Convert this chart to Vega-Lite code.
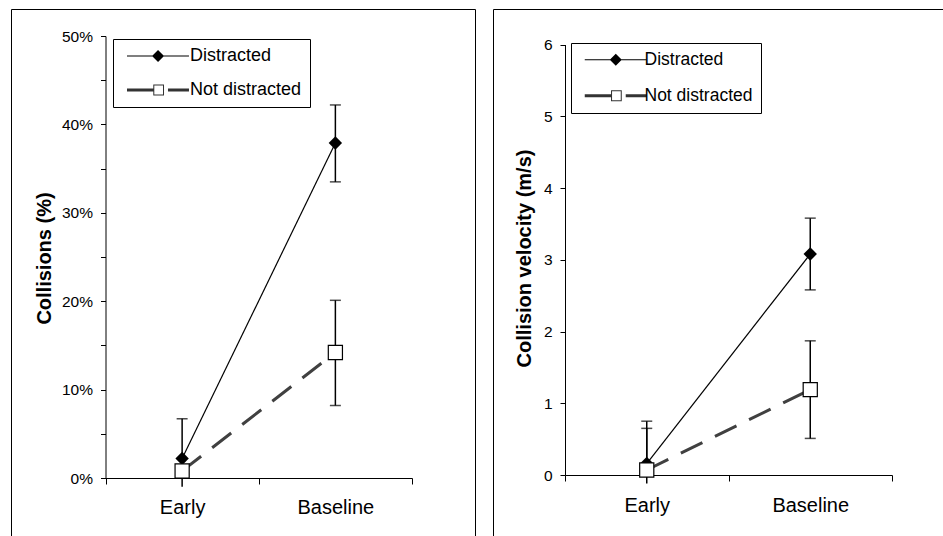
{
  "$schema": "https://vega.github.io/schema/vega-lite/v6.json",
  "padding": {"left": 10, "top": 8, "right": 0, "bottom": 0},
  "spacing": 16,
  "background": "white",
  "config": {
    "view": {"stroke": "black", "strokeWidth": 1},
    "font": "Liberation Sans",
    "axis": {"grid": false, "domainColor": "black", "tickColor": "black", "labelColor": "black", "titleColor": "black", "labelFont": "Liberation Sans", "titleFont": "Liberation Sans", "domainWidth": 1, "tickWidth": 1, "titleFontSize": 20, "titleFontWeight": "bold", "titleLimit": 1000}
  },
  "resolve": {"scale": {"shape": "independent", "fill": "independent"}, "legend": {"shape": "independent", "fill": "independent"}},
  "datasets": {
    "left": [
      {"series": "Distracted", "cond": "Early", "value": 0.022, "lo": -0.01, "hi": 0.067},
      {"series": "Not distracted", "cond": "Early", "value": 0.008, "lo": 0.008, "hi": 0.008},
      {"series": "Distracted", "cond": "Baseline", "value": 0.379, "lo": 0.335, "hi": 0.422},
      {"series": "Not distracted", "cond": "Baseline", "value": 0.142, "lo": 0.082, "hi": 0.201}
    ],
    "right": [
      {"series": "Distracted", "cond": "Early", "value": 0.16, "lo": -0.12, "hi": 0.75},
      {"series": "Not distracted", "cond": "Early", "value": 0.07, "lo": 0.07, "hi": 0.65},
      {"series": "Distracted", "cond": "Baseline", "value": 3.08, "lo": 2.58, "hi": 3.58},
      {"series": "Not distracted", "cond": "Baseline", "value": 1.19, "lo": 0.51, "hi": 1.87}
    ]
  },
  "hconcat": [
    {
      "width": 464,
      "height": 528,
      "data": {"name": "left"},
      "encoding": {
        "x": {"field": "cond", "type": "nominal", "sort": ["Early", "Baseline"],
          "scale": {"type": "band", "domain": ["Early", "Baseline"], "range": [94.5, 401], "paddingInner": 0, "paddingOuter": 0},
          "axis": {"orient": "bottom", "offset": -59, "title": null, "tickBand": "extent", "tickSize": 6, "labelFontSize": 20, "labelPadding": 13, "labelAngle": 0}},
        "y": {"field": "value", "type": "quantitative", "scale": {"domain": [0, 0.5], "range": [469, 27], "nice": false, "zero": false},
          "axis": {"orient": "left", "offset": -94.5, "values": [0, 0.05, 0.1, 0.15, 0.2, 0.25, 0.3, 0.35, 0.4, 0.45, 0.5], "format": ".0%", "labelExpr": "round(datum.value*100) % 10 == 0 ? datum.label : ''", "tickSize": 5, "labelPadding": 8, "labelFontSize": 15.5, "title": "Collisions (%)", "titleFontSize": 20, "titleFontWeight": "bold", "titleX": -61, "titleY": 249, "titleBaseline": "middle"}}
      },
      "layer": [
        {
          "transform": [{"filter": "datum.hi > datum.lo"}],
          "mark": {"type": "rule", "color": "black", "strokeWidth": 1.5},
          "encoding": {
            "y": {"field": "lo", "type": "quantitative", "title": "Collisions (%)"},
            "y2": {"field": "hi"}
          }
        },
        {
          "transform": [{"filter": "datum.hi > datum.value"}],
          "mark": {"type": "tick", "color": "black", "size": 11, "thickness": 1.5},
          "encoding": {"y": {"field": "hi", "type": "quantitative", "title": "Collisions (%)"}}
        },
        {
          "transform": [{"filter": "datum.lo > 0 && datum.lo < datum.value"}],
          "mark": {"type": "tick", "color": "black", "size": 11, "thickness": 1.5},
          "encoding": {"y": {"field": "lo", "type": "quantitative", "title": "Collisions (%)"}}
        },
        {
          "transform": [{"filter": "datum.series == 'Distracted'"}],
          "mark": {"type": "line", "color": "black", "strokeWidth": 1.2}
        },
        {
          "transform": [{"filter": "datum.series == 'Not distracted'"}],
          "mark": {"type": "line", "color": "#404040", "strokeWidth": 3, "strokeDash": [24, 14]}
        },
        {
          "transform": [{"filter": "datum.series == 'Distracted'"}],
          "mark": {"type": "point", "shape": "diamond", "filled": true, "color": "black", "size": 180, "opacity": 1}
        },
        {
          "transform": [{"filter": "datum.series == 'Not distracted'"}],
          "mark": {"type": "point", "shape": "square", "filled": true, "fill": "white", "stroke": "black", "strokeWidth": 1.2, "size": 200, "opacity": 1}
        },
        {
          "transform": [{"filter": "false"}],
          "mark": {"type": "point", "filled": true, "size": 144, "opacity": 1, "strokeWidth": 0},
          "encoding": {
            "shape": {"field": "series", "type": "nominal",
              "scale": {"domain": ["Distracted", "Not distracted"], "range": ["M-1,-0.09H9.33V0.09H-1Z M4.17,-1L5.17,0L4.17,1L3.17,0Z", "M-1,-0.25H3.38V0.25H-1Z M3.38,-0.92H5.17V0.92H3.38Z M3.55,-0.75V0.75H5.0V-0.75Z M5.83,-0.25H9.33V0.25H5.83Z"]},
              "legend": {"orient": "none", "legendX": 102, "legendY": 30, "title": null, "strokeColor": "black", "fillColor": "white", "padding": 8, "rowPadding": 16, "labelFontSize": 18, "labelFont": "Liberation Sans", "labelColor": "black", "labelOffset": 48, "symbolOffset": 3, "symbolStrokeWidth": 0, "symbolSize": 144, "symbolOpacity": 1}},
            "fill": {"field": "series", "type": "nominal",
              "scale": {"domain": ["Distracted", "Not distracted"], "range": ["black", "#333333"]},
              "legend": {"orient": "none", "legendX": 102, "legendY": 30, "title": null, "strokeColor": "black", "fillColor": "white", "padding": 8, "rowPadding": 16, "labelFontSize": 18, "labelFont": "Liberation Sans", "labelColor": "black", "labelOffset": 48, "symbolOffset": 3, "symbolStrokeWidth": 0, "symbolSize": 144, "symbolOpacity": 1}}
          }
        }
      ]
    },
    {
      "width": 451,
      "height": 528,
      "data": {"name": "right"},
      "encoding": {
        "x": {"field": "cond", "type": "nominal", "sort": ["Early", "Baseline"],
          "scale": {"type": "band", "domain": ["Early", "Baseline"], "range": [72, 399], "paddingInner": 0, "paddingOuter": 0},
          "axis": {"orient": "bottom", "offset": -62, "title": null, "tickBand": "extent", "tickSize": 6, "labelFontSize": 20, "labelPadding": 14, "labelAngle": 0}},
        "y": {"field": "value", "type": "quantitative", "scale": {"domain": [0, 6], "range": [466, 35.5], "nice": false, "zero": false},
          "axis": {"orient": "left", "offset": -72, "values": [0, 0.5, 1, 1.5, 2, 2.5, 3, 3.5, 4, 4.5, 5, 5.5, 6], "format": "d", "labelExpr": "datum.value % 1 == 0 ? datum.label : ''", "tickSize": 5, "labelPadding": 8, "labelFontSize": 15.5, "title": "Collision velocity (m/s)", "titleFontSize": 20, "titleFontWeight": "bold", "titleX": -41, "titleY": 249, "titleBaseline": "middle"}}
      },
      "layer": [
        {
          "transform": [{"filter": "datum.hi > datum.lo"}],
          "mark": {"type": "rule", "color": "black", "strokeWidth": 1.5},
          "encoding": {
            "y": {"field": "lo", "type": "quantitative", "title": "Collision velocity (m/s)"},
            "y2": {"field": "hi"}
          }
        },
        {
          "transform": [{"filter": "datum.hi > datum.value"}],
          "mark": {"type": "tick", "color": "black", "size": 11, "thickness": 1.5},
          "encoding": {"y": {"field": "hi", "type": "quantitative", "title": "Collision velocity (m/s)"}}
        },
        {
          "transform": [{"filter": "datum.lo > 0 && datum.lo < datum.value"}],
          "mark": {"type": "tick", "color": "black", "size": 11, "thickness": 1.5},
          "encoding": {"y": {"field": "lo", "type": "quantitative", "title": "Collision velocity (m/s)"}}
        },
        {
          "transform": [{"filter": "datum.series == 'Distracted'"}],
          "mark": {"type": "line", "color": "black", "strokeWidth": 1.2}
        },
        {
          "transform": [{"filter": "datum.series == 'Not distracted'"}],
          "mark": {"type": "line", "color": "#404040", "strokeWidth": 3, "strokeDash": [24, 14]}
        },
        {
          "transform": [{"filter": "datum.series == 'Distracted'"}],
          "mark": {"type": "point", "shape": "diamond", "filled": true, "color": "black", "size": 180, "opacity": 1}
        },
        {
          "transform": [{"filter": "datum.series == 'Not distracted'"}],
          "mark": {"type": "point", "shape": "square", "filled": true, "fill": "white", "stroke": "black", "strokeWidth": 1.2, "size": 200, "opacity": 1}
        },
        {
          "transform": [{"filter": "false"}],
          "mark": {"type": "point", "filled": true, "size": 144, "opacity": 1, "strokeWidth": 0},
          "encoding": {
            "shape": {"field": "series", "type": "nominal",
              "scale": {"domain": ["Distracted", "Not distracted"], "range": ["M-1,-0.09H9.33V0.09H-1Z M4.17,-1L5.17,0L4.17,1L3.17,0Z", "M-1,-0.25H3.38V0.25H-1Z M3.38,-0.92H5.17V0.92H3.38Z M3.55,-0.75V0.75H5.0V-0.75Z M5.83,-0.25H9.33V0.25H5.83Z"]},
              "legend": {"orient": "none", "legendX": 78, "legendY": 34, "title": null, "strokeColor": "black", "fillColor": "white", "padding": 8, "rowPadding": 17, "labelFontSize": 17.5, "labelFont": "Liberation Sans", "labelColor": "black", "labelOffset": 45, "symbolOffset": 3, "symbolStrokeWidth": 0, "symbolSize": 144, "symbolOpacity": 1}},
            "fill": {"field": "series", "type": "nominal",
              "scale": {"domain": ["Distracted", "Not distracted"], "range": ["black", "#333333"]},
              "legend": {"orient": "none", "legendX": 78, "legendY": 34, "title": null, "strokeColor": "black", "fillColor": "white", "padding": 8, "rowPadding": 17, "labelFontSize": 17.5, "labelFont": "Liberation Sans", "labelColor": "black", "labelOffset": 45, "symbolOffset": 3, "symbolStrokeWidth": 0, "symbolSize": 144, "symbolOpacity": 1}}
          }
        }
      ]
    }
  ]
}
